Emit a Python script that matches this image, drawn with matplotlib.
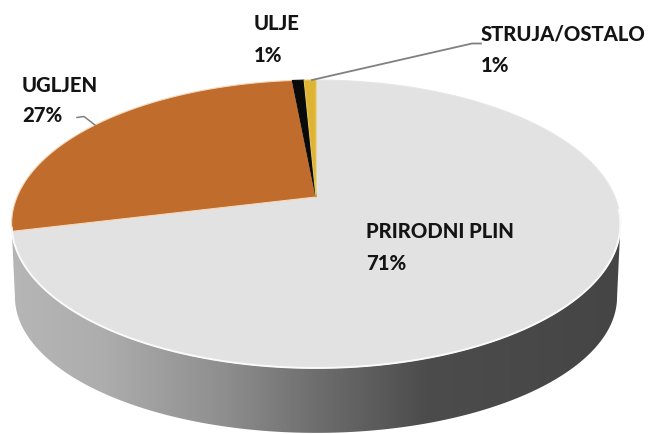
import numpy as np
import matplotlib
matplotlib.use("Agg")
import matplotlib.pyplot as plt
from matplotlib.patches import Polygon
from matplotlib.colors import LinearSegmentedColormap

categories = ["PRIRODNI PLIN", "UGLJEN", "ULJE", "STRUJA/OSTALO"]
values = [71.2, 27.3, 0.75, 0.75]
labels_pct = ["71%", "27%", "1%", "1%"]
colors = ["#e2e2e2", "#bf6c2d", "#0a0a0a", "#dfb334"]
edges = ["#e6e6e6", "#f6d8b8", "#0a0a0a", "#e6c75a"]
side_stops = [(0.0, "#b6b6b6"), (0.15, "#adadad"), (0.35, "#8e8e8e"), (0.5, "#6e6e6e"),
              (0.68, "#4c4c4c"), (1.0, "#454545")]

plt.rcParams["font.family"] = ["Lato", "Open Sans", "DejaVu Sans"]
W, H = 651, 434
fig = plt.figure(figsize=(W / 100, H / 100), dpi=100)
ax = fig.add_axes([0, 0, 1, 1])
ax.set_xlim(0, W)
ax.set_ylim(H, 0)
ax.axis("off")

CX, CY, B, A, K = 316.0, 197.0, 299.0, 138.9, 0.1875


def project(deg, r=1.0, dy=0.0, sx=1.0, sy=1.0):
    t = np.radians(deg)
    u, v = r * np.sin(t), r * np.cos(t)
    d = 1 + K * v
    return np.column_stack((CX + sx * B * u / d, CY + dy - sy * A * v / d))


ring = np.linspace(0, 360, 1441)
top = project(ring)
bottom = project(ring, dy=74.5, sx=0.989, sy=0.944)
upper_side = top[top[:, 1] >= 226]
lower_side = bottom[bottom[:, 1] >= 297]
body = np.vstack((upper_side, lower_side[::-1]))
side = Polygon(body, closed=True, transform=ax.transData, fc="none", ec="none")
ax.add_patch(side)
cmap = LinearSegmentedColormap.from_list("side", side_stops)
im = ax.imshow(np.linspace(0, 1, 512)[None, :], cmap=cmap, extent=(10, 622, 440, 200),
               aspect="auto", zorder=1)
im.set_clip_path(side)
ax.set_xlim(0, W)
ax.set_ylim(H, 0)

apex = project(np.array([0.0]), r=0.0)
start = 0.0
for val, col, ec in zip(values, colors, edges):
    stop = start + val * 3.6
    arc = project(np.linspace(start, stop, max(4, int(val * 8))))
    ax.add_patch(Polygon(np.vstack((apex, arc)), closed=True, fc=col, ec=ec, lw=0.8, zorder=3))
    start = stop
front = ring[(ring > 95) & (ring < 258)]
ax.plot(*project(front).T, color="#fafafa", lw=1.4, zorder=4)

ax.plot([77, 84, 95], [117.5, 116.5, 125], color="#808080", lw=1.1, zorder=5)
ax.plot([312, 472, 481], [80, 43.5, 43.5], color="#808080", lw=1.3, zorder=5)

fs = 14.6
txt = dict(fontsize=fs, fontweight=900, color="#141414", va="center", ha="left", zorder=6)
positions = [(366, 232, 264), (22, 86, 116), (254, 24, 55), (481, 34, 65)]
for name, pct, (x, y1, y2) in zip(categories, labels_pct, positions):
    ax.text(x, y1, name, **txt)
    ax.text(x, y2, pct, **txt)

fig.savefig("out.png", dpi=100)
